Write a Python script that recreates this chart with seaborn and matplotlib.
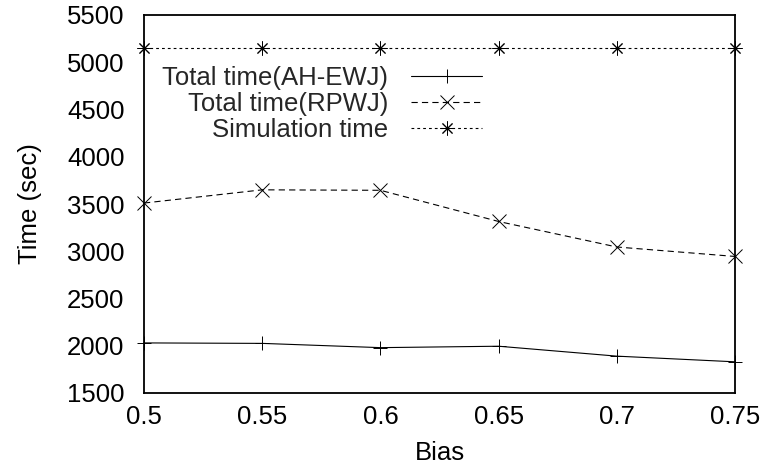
import matplotlib
matplotlib.use("Agg")
import matplotlib.pyplot as plt
import seaborn as sns
import pandas as pd

bias = [0.5, 0.55, 0.6, 0.65, 0.7, 0.75]
total_ahewj = [2030, 2025, 1980, 1995, 1890, 1830]
total_rpwj = [3510, 3650, 3645, 3315, 3045, 2945]
simulation = [5155, 5155, 5155, 5155, 5155, 5155]
series_names = ["Total time(AH-EWJ)", "Total time(RPWJ)", "Simulation time"]
xtick_vals = [0.5, 0.55, 0.6, 0.65, 0.7, 0.75]
xtick_labels = ["0.5", "0.55", "0.6", "0.65", "0.7", "0.75"]
ytick_vals = [1500, 2000, 2500, 3000, 3500, 4000, 4500, 5000, 5500]

sns.set_theme(style="white")
plt.rcParams["font.family"] = ["Liberation Sans", "DejaVu Sans"]
plt.rcParams["lines.scale_dashes"] = False

FS = 18.5
fig = plt.figure(figsize=(7.62, 4.72), dpi=100)
ax = fig.add_axes([144 / 762, 1 - 393 / 472, (735 - 144) / 762, (393 - 15) / 472])

df = pd.DataFrame({"Bias": bias * 3,
                   "Time": total_ahewj + total_rpwj + simulation,
                   "Series": [series_names[0]] * 6 + [series_names[1]] * 6 + [series_names[2]] * 6})

styles = [
    dict(linestyle="-", marker="+"),
    dict(linestyle=(0, (4.5, 3.0)), marker="x"),
    dict(linestyle=(0, (2.0, 2.2)), marker=(8, 2, 0)),
]
for name, st in zip(series_names, styles):
    sub = df[df["Series"] == name]
    sns.lineplot(data=sub, x="Bias", y="Time", ax=ax, color="black", lw=0.8,
                 markersize=10, markeredgewidth=0.7, markeredgecolor="black",
                 markerfacecolor="black", label=name, clip_on=False, **st)

ax.set_xlim(0.5, 0.75)
ax.set_ylim(1500, 5500)
ax.set_xticks(xtick_vals)
ax.set_xticklabels(xtick_labels)
ax.set_yticks(ytick_vals)
ax.tick_params(axis="both", direction="in", length=7.5, width=1.0, labelsize=FS,
               colors="black")
ax.tick_params(axis="y", pad=14)
ax.tick_params(axis="x", pad=9)
for s in ax.spines.values():
    s.set_color("black")
    s.set_linewidth(1.3)
ax.set_xlabel("Bias", fontsize=FS, color="black", labelpad=8)
ax.set_ylabel("Time (sec)", fontsize=FS, color="black", labelpad=18)

leg = ax.legend(loc="upper right", bbox_to_anchor=(0.572, 0.866), frameon=False,
                markerfirst=False, fontsize=FS, handlelength=2.75, handletextpad=0.9,
                labelspacing=0.08, borderpad=0, borderaxespad=0)

fig.savefig("out.png", dpi=100)
